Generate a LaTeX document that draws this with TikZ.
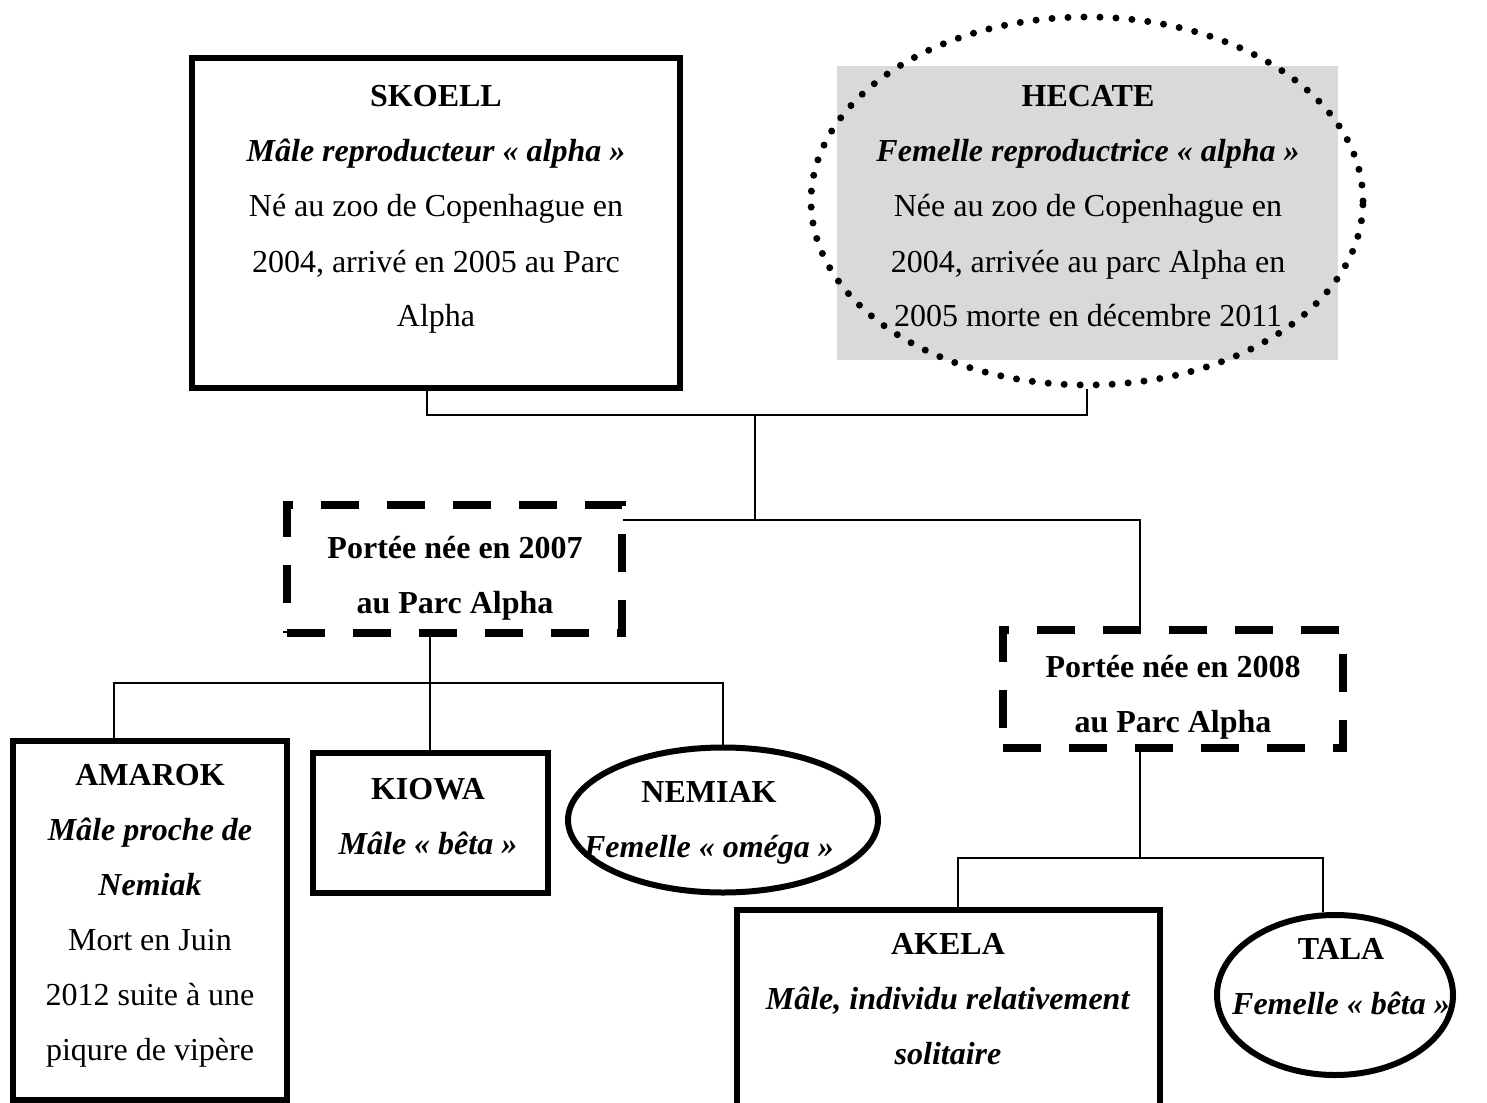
\documentclass[tikz,border=0pt]{standalone}
\usepackage{fontspec}
\setmainfont{Liberation Serif}
\usetikzlibrary{shapes.geometric}
\definecolor{boxgray}{HTML}{D9D9D9}
\tikzset{
  thickbox/.style={draw, line width=6pt, rectangle, inner sep=0pt},
  dashbox/.style={draw, line width=8pt, rectangle, inner sep=0pt, dash pattern=on 38pt off 28pt},
  thickell/.style={draw, line width=6pt, ellipse, inner sep=0pt},
  dotell/.style={draw, line width=7pt, ellipse, inner sep=0pt, dash pattern=on 0pt off 16pt, line cap=round},
  graybox/.style={fill=boxgray, rectangle, inner sep=0pt},
  conn/.style={line width=1.8pt},
  txt/.style={anchor=base, inner sep=0pt, text width=600pt, align=flush center, font=\fontsize{32}{55}\selectfont},
}
\begin{document}
\begin{tikzpicture}[x=1pt,y=-1pt]
\clip (0,0) rectangle (1487,1102);
\useasboundingbox (0,0) rectangle (1487,1102);
% shapes
\node[thickbox, minimum width=488pt, minimum height=330pt] (skoell) at (436,223) {};
\node[graybox, minimum width=501pt, minimum height=294pt] (hecatebox) at (1087.5,213) {};
\node[dotell, minimum width=552pt, minimum height=368pt] (hecate) at (1087,201) {};
\node[dashbox, minimum width=335pt, minimum height=128pt] (p07) at (454.5,569) {};
\node[dashbox, minimum width=340pt, minimum height=118pt] (p08) at (1173,689) {};
\node[thickbox, minimum width=274pt, minimum height=359pt] (amarok) at (150,920) {};
\node[thickbox, minimum width=235pt, minimum height=140pt] (kiowa) at (430,823) {};
\node[thickell, minimum width=310pt, minimum height=145pt] (nemiak) at (723,820) {};
\node[thickbox, minimum width=423pt, minimum height=200pt] (akela) at (948.5,1010) {};
\node[thickell, minimum width=236pt, minimum height=160pt] (tala) at (1335,995) {};
% texts
\node[txt] (skoellt) at (436,107) {\textbf{SKOELL}\\\textbf{\textit{Mâle reproducteur « alpha »}}\\Né au zoo de Copenhague en\\2004, arrivé en 2005 au Parc\\Alpha};
\node[txt] (hecatet) at (1088,107) {\textbf{HECATE}\\\textbf{\textit{Femelle reproductrice « alpha »}}\\Née au zoo de Copenhague en\\2004, arrivée au parc Alpha en\\2005 morte en décembre 2011};
\node[txt] (p07t) at (455,558) {\textbf{Portée née en 2007}\\\textbf{au Parc Alpha}};
\node[txt] (p08t) at (1173,677) {\textbf{Portée née en 2008}\\\textbf{au Parc Alpha}};
\node[txt] (amarokt) at (150,785) {\textbf{AMAROK}\\\textbf{\textit{Mâle proche de}}\\\textbf{\textit{Nemiak}}\\Mort en Juin\\2012 suite à une\\piqure de vipère};
\node[txt] (kiowat) at (428,799) {\textbf{KIOWA}\\\textbf{\textit{Mâle « bêta »}}};
\node[txt] (nemiakt) at (709,802) {\textbf{NEMIAK}\\\textbf{\textit{Femelle « oméga »}}};
\node[txt] (akelat) at (948,954) {\textbf{AKELA}\\\textbf{\textit{Mâle, individu relativement}}\\\textbf{\textit{solitaire}}};
\node[txt] (talat) at (1341,959) {\textbf{TALA}\\\textbf{\textit{Femelle « bêta »}}};
% connectors
\coordinate (j1) at (755,415);
\coordinate (j2) at (755,520);
\coordinate (j3) at (427,683);
\coordinate (j4) at (1140,858);
\draw[conn] ([xshift=-9pt]skoell.south) |- (j1) -| (hecate.south);
\draw[conn] (j1) -- (j2);
\draw[conn] ([xshift=-3pt]p07.north east |- j2) -- (j2) -| ([xshift=-33pt]p08.north);
\draw[conn] (p07.south -| kiowa.north) -- (kiowa.north);
\draw[conn] ([xshift=-36pt]amarok.north) |- (j3) -| (nemiak.north);
\draw[conn] ([xshift=-33pt]p08.south) -- (j4);
\draw[conn] ([xshift=9.5pt]akela.north) |- (j4) -| ([xshift=-12pt]tala.north);
\end{tikzpicture}
\end{document}
